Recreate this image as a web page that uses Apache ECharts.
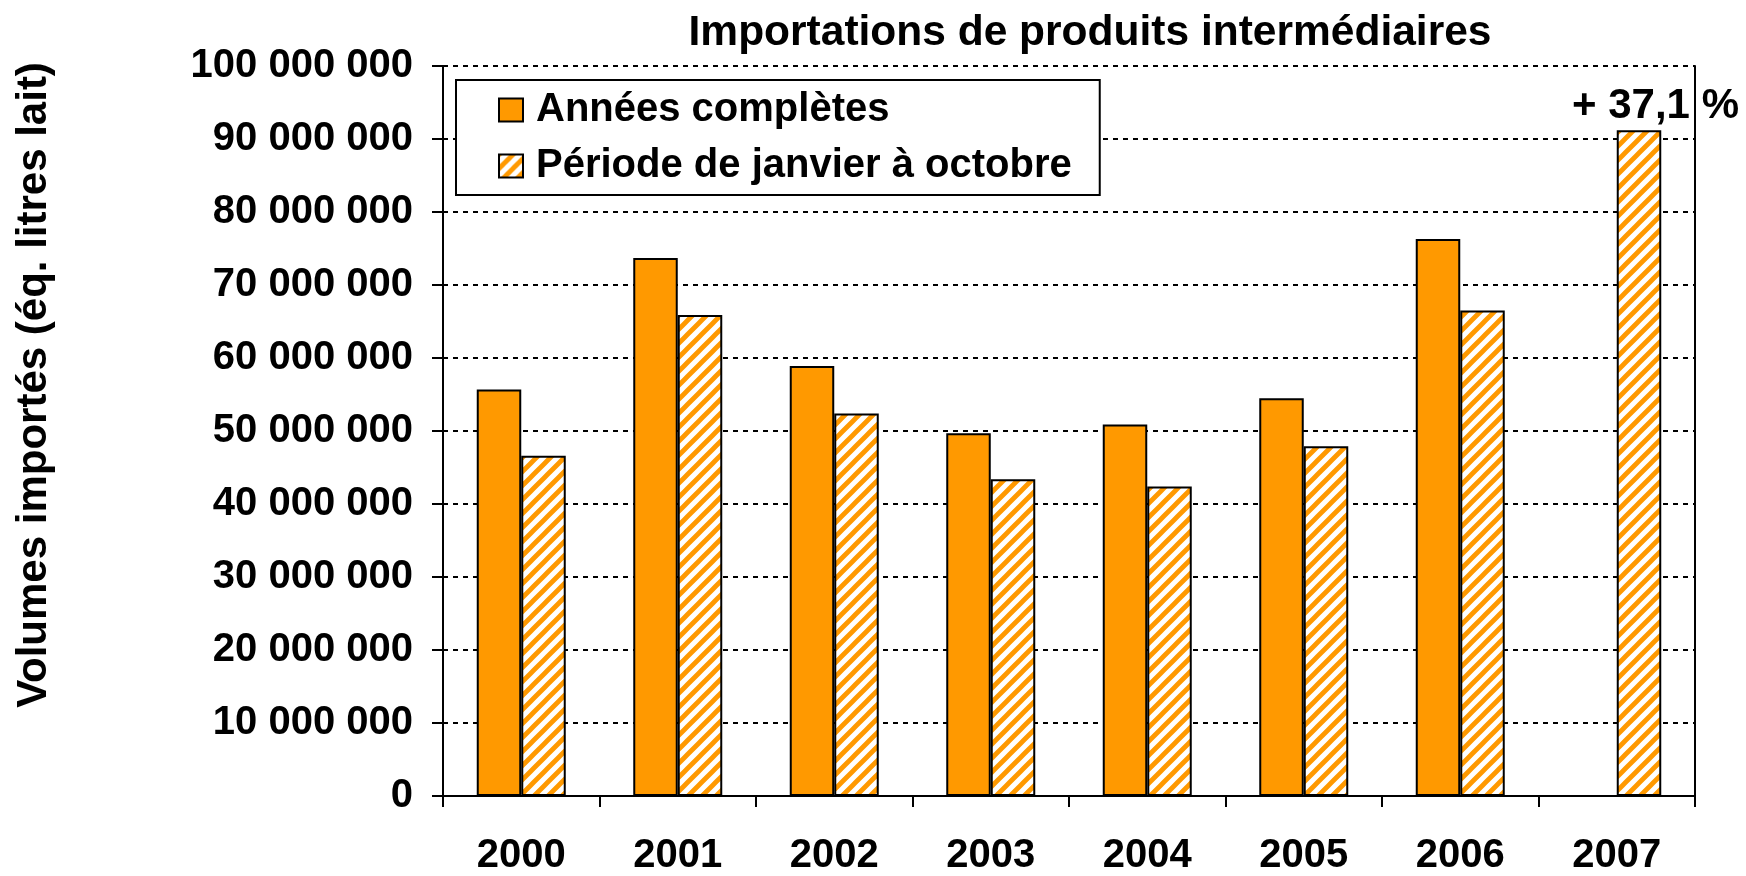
<!DOCTYPE html>
<html>
<head>
<meta charset="utf-8">
<script src="https://cdn.jsdelivr.net/npm/echarts@6/dist/echarts.min.js"></script>
<style>
html,body{margin:0;padding:0;background:#fff;}
#chart{width:1746px;height:876px;}
</style>
</head>
<body>
<div id="chart"></div>
<script>
const categories = ['2000', '2001', '2002', '2003', '2004', '2005', '2006', '2007'];
const fullYears = [55700000, 73700000, 58900000, 49700000, 50900000, 54500000, 76300000, null];
const janOct = [46600000, 65900000, 52400000, 43400000, 42400000, 47900000, 66500000, 91200000];
const seriesNames = ['Années complètes', 'Période de janvier à octobre'];
const growthLabel = '+ 37,1 %';
const titleText = 'Importations de produits intermédiaires';
const yAxisTitle = 'Volumes importés (éq. litres lait)';

const FONT = '"Liberation Sans", Arial, sans-serif';
const ORANGE = '#FF9900';

function hatch() {
  const s = 14;
  const c = document.createElement('canvas');
  c.width = s; c.height = s;
  const ctx = c.getContext('2d');
  ctx.fillStyle = '#fff';
  ctx.fillRect(0, 0, s, s);
  ctx.strokeStyle = ORANGE;
  ctx.lineWidth = 4.8;
  ctx.beginPath();
  ctx.moveTo(-2, s + 2); ctx.lineTo(s + 2, -2);
  ctx.moveTo(-s / 2 - 2, s / 2 + 2); ctx.lineTo(s / 2 + 2, -s / 2 - 2);
  ctx.moveTo(s / 2 - 2, 1.5 * s + 2); ctx.lineTo(1.5 * s + 2, s / 2 - 2);
  ctx.stroke();
  return c;
}
const hatchPattern = { image: hatch(), repeat: 'repeat' };

function fmt(v) {
  return String(v).replace(/\B(?=(\d{3})+(?!\d))/g, ' ');
}

const janOctData = janOct.map((v, i) => i === janOct.length - 1 ? {
  value: v,
  label: {
    show: true, position: 'top', distance: 3, offset: [16.5, 0],
    formatter: growthLabel, color: '#000', fontSize: 42, fontWeight: 'bold', fontFamily: FONT
  }
} : v);

const chart = echarts.init(document.getElementById('chart'), null, { renderer: 'canvas' });
chart.setOption({
  backgroundColor: '#fff',
  animation: false,
  title: {
    text: titleText,
    left: 1090, top: 12, padding: 0, textAlign: 'center',
    textStyle: { fontSize: 42.5, fontWeight: 'bold', fontFamily: FONT, color: '#000' }
  },
  legend: {
    orient: 'vertical',
    left: 456, top: 80,
    padding: [10, 28, 9, 42],
    itemGap: 16,
    itemWidth: 24, itemHeight: 23,
    backgroundColor: '#fff',
    borderColor: '#000', borderWidth: 2,
    icon: 'rect',
    data: seriesNames,
    textStyle: { fontSize: 40, fontWeight: 'bold', fontFamily: FONT, color: '#000', padding: [0, 0, 0, 8] }
  },
  grid: { left: 443, right: 51, top: 66, bottom: 74, containLabel: false },
  xAxis: {
    type: 'category',
    data: categories,
    axisLine: { lineStyle: { color: '#000', width: 2 } },
    axisTick: { show: true, length: 11, lineStyle: { color: '#000', width: 2 } },
    axisLabel: { margin: 40, fontSize: 40, fontWeight: 'bold', fontFamily: FONT, color: '#000' },
    splitLine: { show: false }
  },
  yAxis: [{
    type: 'value',
    min: 0, max: 100000000, interval: 10000000,
    name: yAxisTitle,
    nameLocation: 'middle',
    nameRotate: 90,
    nameGap: 388,
    nameTextStyle: { fontSize: 42, fontWeight: 'bold', fontFamily: FONT, color: '#000', padding: [0, 0, 0, 92] },
    axisLine: { show: true, lineStyle: { color: '#000', width: 2 } },
    axisTick: { show: true, length: 11, lineStyle: { color: '#000', width: 2 } },
    axisLabel: { margin: 30, fontSize: 40, fontWeight: 'bold', fontFamily: FONT, color: '#000', formatter: fmt },
    splitLine: { show: true, lineStyle: { color: '#000', width: 2, type: [5, 5] } }
  }, {
    type: 'value',
    position: 'right',
    min: 0, max: 100000000, interval: 10000000,
    axisLine: { show: true, lineStyle: { color: '#000', width: 2 } },
    axisTick: { show: false },
    axisLabel: { show: false },
    splitLine: { show: false }
  }],
  series: [{
    name: seriesNames[0],
    type: 'bar',
    data: fullYears,
    barWidth: 44.5,
    barGap: '0%',
    itemStyle: { color: ORANGE, borderColor: '#000', borderWidth: 2 }
  }, {
    name: seriesNames[1],
    type: 'bar',
    data: janOctData,
    barWidth: 44.5,
    barGap: '0%',
    itemStyle: { color: hatchPattern, borderColor: '#000', borderWidth: 2 }
  }]
});
</script>
</body>
</html>
